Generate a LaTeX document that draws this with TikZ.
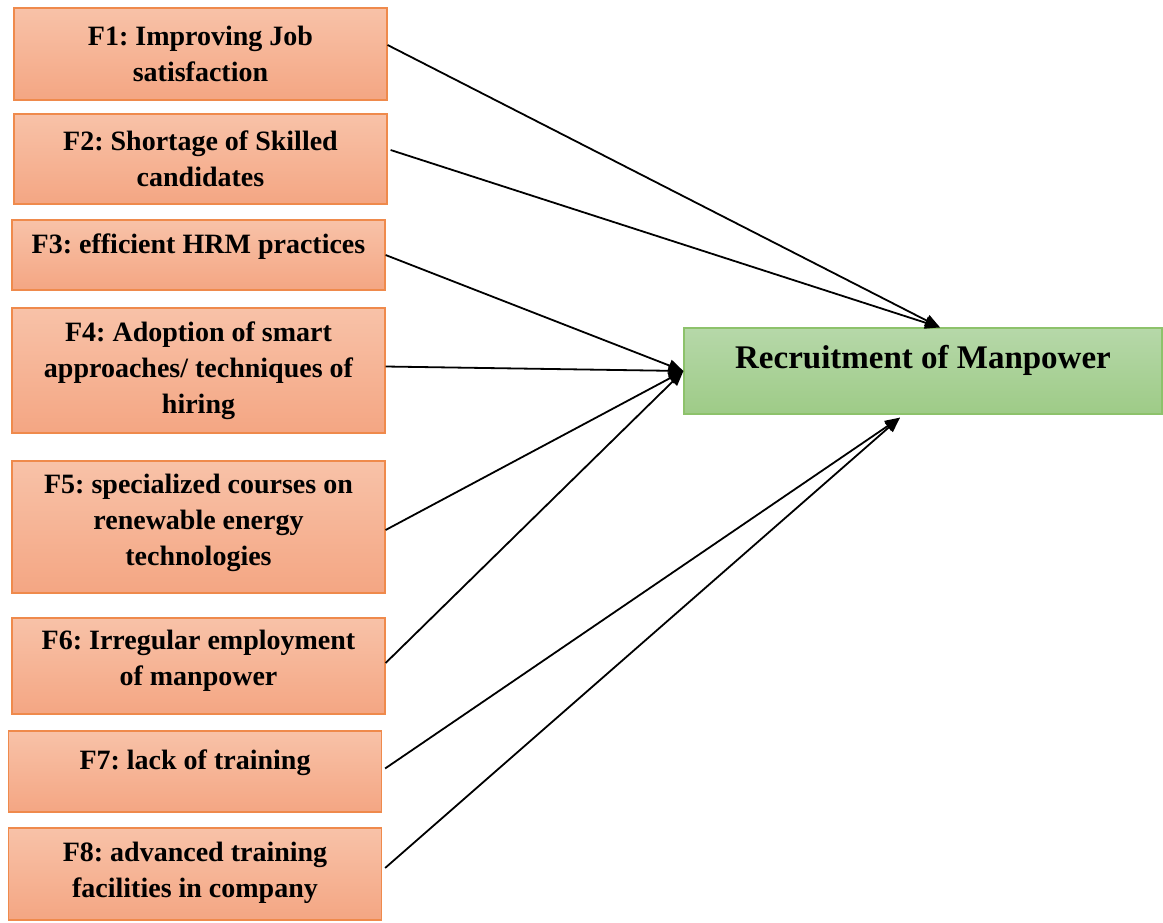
\documentclass[tikz,border=0pt]{standalone}
\usepackage{fontspec}
\setmainfont{Liberation Serif}
\frenchspacing
\usetikzlibrary{arrows.meta}
\newcommand{\unitsize}{1pt}
\definecolor{factortop}{HTML}{F8C2A8}
\definecolor{factorbot}{HTML}{F4A683}
\definecolor{factorline}{HTML}{EF8A4C}
\definecolor{recruittop}{HTML}{B6D8A9}
\definecolor{recruitbot}{HTML}{9ECB87}
\definecolor{recruitline}{HTML}{8DC26B}

\begin{document}
\begin{tikzpicture}
\useasboundingbox (0,0) rectangle (1163*\unitsize,-922*\unitsize);
\tikzstyle{factor}=[draw=factorline,
			line width=1.2*\unitsize,
			top color=factortop,
			bottom color=factorbot,
			minimum width=373*\unitsize,
			inner sep=0pt
			]
\tikzstyle{recruit}=[draw=recruitline,
			line width=1.2*\unitsize,
			top color=recruittop,
			bottom color=recruitbot,
			minimum width=478*\unitsize,
			minimum height=86*\unitsize,
			inner sep=0pt
			]
\tikzstyle{factortext}=[font=\fontsize{28}{36}\selectfont\bfseries,
			align=center,
			inner sep=0pt
			]
\tikzstyle{link}=[line width=1.8*\unitsize,
			-{Triangle[length=15*\unitsize,width=12*\unitsize]}
			]


\node[factor, minimum height=92*\unitsize] (f1) at (200.5*\unitsize,-54*\unitsize) {};
\node[factortext] (f1text) at (f1.center) {F1: Improving Job\\satisfaction};


\node[factor, minimum height=90*\unitsize] (f2) at (200.5*\unitsize,-159*\unitsize) {};
\node[factortext] (f2text) at (f2.center) {F2: Shortage of Skilled\\candidates};


\node[factor, minimum height=70*\unitsize] (f3) at (198.5*\unitsize,-255*\unitsize) {};
\node[factortext, yshift=8*\unitsize] (f3text) at (f3.center) {F3: efficient HRM practices};


\node[factor, minimum height=125*\unitsize] (f4) at (198.5*\unitsize,-370.5*\unitsize) {};
\node[factortext] (f4text) at (f4.center) {F4: Adoption of smart\\approaches/ techniques of\\hiring};


\node[factor, minimum height=132*\unitsize] (f5) at (198.5*\unitsize,-527*\unitsize) {};
\node[factortext, yshift=4*\unitsize] (f5text) at (f5.center) {F5: specialized courses on\\renewable energy\\technologies};


\node[factor, minimum height=96*\unitsize] (f6) at (198.5*\unitsize,-666*\unitsize) {};
\node[factortext, yshift=5*\unitsize] (f6text) at (f6.center) {F6: Irregular employment\\of manpower};


\node[factor, minimum height=81*\unitsize] (f7) at (195*\unitsize,-771.5*\unitsize) {};
\node[factortext, yshift=9*\unitsize] (f7text) at (f7.center) {F7: lack of training};


\node[factor, minimum height=92*\unitsize] (f8) at (195*\unitsize,-874*\unitsize) {};
\node[factortext, yshift=1*\unitsize] (f8text) at (f8.center) {F8: advanced training\\facilities in company};


\node[recruit] (rec) at (923*\unitsize,-371*\unitsize) {};
\node[factortext, font=\fontsize{33}{40}\selectfont\bfseries, yshift=11*\unitsize] (rectext) at (rec.center) {Recruitment of Manpower};


\draw[link] ([yshift=9*\unitsize]f1.east) -- ([xshift=17*\unitsize]rec.north);


\draw[link] ([xshift=3*\unitsize,yshift=9*\unitsize]f2.east) -- ([xshift=17*\unitsize]rec.north);


\draw[link] (f3.east) -- (rec.west);


\draw[link] ([yshift=4*\unitsize]f4.east) -- (rec.west);


\draw[link] ([yshift=-3*\unitsize]f5.east) -- (rec.west);


\draw[link] ([yshift=3*\unitsize]f6.east) -- (rec.west);


\draw[link] ([xshift=3*\unitsize,yshift=3*\unitsize]f7.east) -- ([xshift=-23*\unitsize,yshift=-3*\unitsize]rec.south);


\draw[link] ([xshift=3*\unitsize,yshift=6*\unitsize]f8.east) -- ([xshift=-23*\unitsize,yshift=-3*\unitsize]rec.south);

\end{tikzpicture}
\end{document}
